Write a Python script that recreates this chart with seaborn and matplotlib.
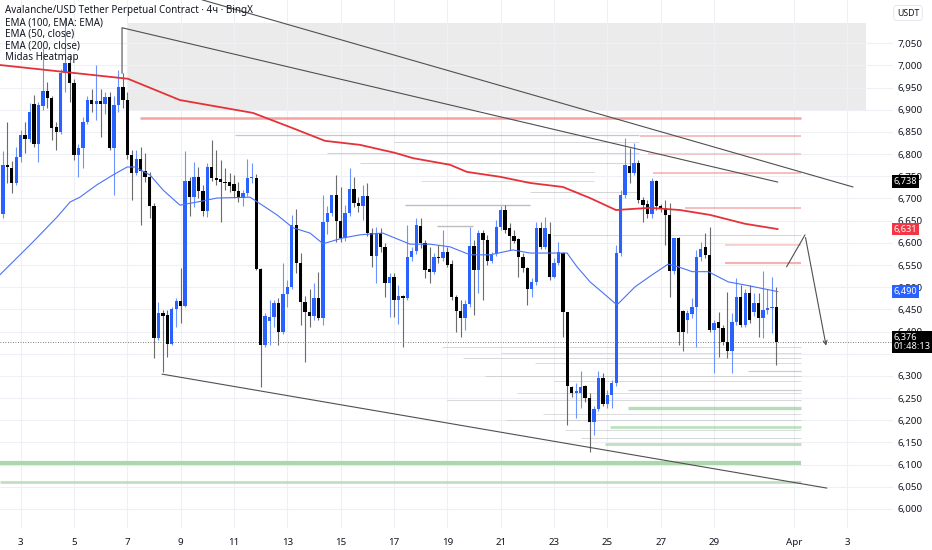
import numpy as np
import pandas as pd
import matplotlib
matplotlib.use("Agg")
import matplotlib.pyplot as plt
import matplotlib.dates as mdates
from matplotlib.patches import Rectangle
import seaborn as sns

# 4h candles, first one 2 Mar 08:00
opens = [6664, 6775, 6768, 6734, 6794, 6843, 6834, 6914, 6824, 6909, 6943, 6926, 6861, 6851, 6982, 7005, 6960, 6798, 6813, 6873, 6922, 6913, 6919, 6913, 6929, 6813, 6911, 6952, 6922,
         6798, 6758, 6788, 6762, 6749, 6682, 6385, 6441, 6437, 6373, 6450, 6469, 6458, 6740, 6703, 6748, 6718, 6672, 6772, 6747, 6743, 6738, 6737, 6732, 6718, 6700, 6713, 6746, 6746,
         6542, 6370, 6424, 6433, 6464, 6400, 6485, 6500, 6640, 6554, 6467, 6445, 6435, 6475, 6430, 6648, 6668, 6708, 6650, 6612, 6667, 6721, 6689, 6682, 6705, 6623, 6571, 6623, 6591,
         6509, 6522, 6471, 6480, 6475, 6567, 6582, 6638, 6600, 6540, 6535, 6567, 6565, 6580, 6552, 6479, 6447, 6430, 6462, 6593, 6539, 6623, 6606, 6560, 6575, 6636, 6674, 6633, 6615, 6608, 6567, 6543, 6495, 6512, 6633, 6591, 6620, 6524, 6554, 6576, 6443, 6276, 6261, 6262,
         6277, 6251, 6195, 6225, 6296, 6237, 6257, 6283, 6576, 6708, 6773, 6758, 6781, 6697, 6688, 6664, 6739, 6683, 6679, 6663, 6537, 6610, 6447, 6425, 6440, 6456, 6569, 6591, 6573, 6404, 6422, 6409, 6377, 6355, 6422, 6479, 6415, 6488, 6445, 6465, 6430, 6449, 6452, 6456]
highs = [6806, 6873, 6785, 6817, 6854, 6873, 6915, 6933, 6918, 7039, 6963, 6931, 6873, 6993, 7109, 7021, 6969, 6824, 6884, 6930, 6948, 7001, 6946, 6941, 6941, 6930, 6990, 6982, 6941,
         6809, 6809, 6817, 6803, 6760, 6689, 6467, 6449, 6449, 6456, 6475, 6543, 6806, 6749, 6783, 6772, 6730, 6779, 6832, 6809, 6787, 6768, 6758, 6753, 6738, 6719, 6788, 6779, 6755,
         6543, 6441, 6471, 6471, 6475, 6554, 6516, 6663, 6676, 6576, 6480, 6497, 6509, 6535, 6708, 6682, 6708, 6753, 6727, 6685, 6768, 6748, 6704, 6730, 6734, 6633, 6636, 6633, 6599,
         6531, 6531, 6505, 6482, 6640, 6591, 6655, 6655, 6606, 6591, 6576, 6595, 6629, 6591, 6561, 6482, 6471, 6471, 6636, 6606, 6629, 6629, 6618, 6580, 6651, 6682, 6685, 6644, 6629, 6612, 6576, 6546, 6520, 6648, 6648, 6659, 6648, 6565, 6603, 6580, 6443, 6277, 6283, 6310,
         6280, 6261, 6231, 6310, 6306, 6268, 6291, 6595, 6719, 6836, 6813, 6826, 6787, 6704, 6697, 6747, 6742, 6688, 6697, 6689, 6612, 6613, 6449, 6449, 6475, 6584, 6603, 6623, 6636, 6426, 6445, 6415, 6490, 6441, 6520, 6505, 6497, 6505, 6486, 6486, 6537, 6497, 6524, 6500]
lows = [6655, 6734, 6712, 6730, 6783, 6802, 6828, 6815, 6783, 6900, 6905, 6833, 6809, 6845, 6941, 6918, 6787, 6749, 6768, 6868, 6895, 6877, 6839, 6890, 6809, 6708, 6895, 6903, 6790,
        6697, 6752, 6640, 6737, 6655, 6340, 6380, 6309, 6343, 6370, 6411, 6420, 6455, 6660, 6680, 6700, 6660, 6659, 6740, 6730, 6648, 6720, 6715, 6700, 6693, 6682, 6705, 6735, 6538,
        6276, 6365, 6370, 6411, 6370, 6395, 6456, 6495, 6531, 6415, 6332, 6411, 6426, 6425, 6415, 6621, 6660, 6603, 6603, 6605, 6660, 6680, 6670, 6651, 6615, 6546, 6509, 6580, 6479,
        6433, 6433, 6418, 6366, 6470, 6560, 6575, 6588, 6520, 6509, 6530, 6555, 6560, 6545, 6471, 6400, 6387, 6403, 6455, 6437, 6486, 6471, 6550, 6555, 6570, 6630, 6622, 6584, 6600, 6524, 6535, 6460, 6479, 6505, 6585, 6585, 6516, 6520, 6550, 6388, 6189, 6253, 6204, 6227,
        6240, 6129, 6167, 6220, 6231, 6227, 6227, 6277, 6570, 6700, 6734, 6752, 6690, 6646, 6655, 6655, 6675, 6670, 6595, 6477, 6530, 6370, 6355, 6396, 6430, 6366, 6560, 6565, 6400, 6306, 6343, 6370, 6340, 6306, 6415, 6410, 6410, 6420, 6435, 6388, 6385, 6440, 6396, 6325]
closes = [6776, 6770, 6736, 6794, 6843, 6834, 6894, 6822, 6911, 6943, 6926, 6860, 6851, 6982, 7005, 6960, 6798, 6813, 6873, 6922, 6913, 6919, 6913, 6928, 6813, 6911, 6952, 6922, 6798,
          6758, 6788, 6762, 6749, 6682, 6385, 6441, 6434, 6373, 6450, 6469, 6458, 6740, 6703, 6749, 6718, 6672, 6772, 6747, 6742, 6738, 6735, 6729, 6718, 6700, 6713, 6746, 6748, 6542,
          6370, 6434, 6433, 6464, 6400, 6485, 6500, 6640, 6554, 6467, 6445, 6435, 6475, 6430, 6648, 6668, 6708, 6650, 6612, 6667, 6721, 6689, 6682, 6705, 6623, 6571, 6623, 6591, 6509,
          6522, 6471, 6480, 6475, 6567, 6582, 6640, 6600, 6539, 6535, 6567, 6565, 6580, 6550, 6479, 6447, 6430, 6462, 6593, 6539, 6623, 6606, 6560, 6575, 6636, 6674, 6630, 6615, 6605, 6567, 6543, 6495, 6512, 6633, 6591, 6633, 6524, 6554, 6580, 6445, 6277, 6261, 6265, 6276,
          6251, 6195, 6225, 6296, 6237, 6257, 6283, 6576, 6708, 6775, 6758, 6781, 6697, 6685, 6664, 6739, 6683, 6678, 6663, 6537, 6610, 6400, 6400, 6441, 6456, 6569, 6585, 6573, 6404, 6420, 6407, 6377, 6355, 6422, 6479, 6415, 6488, 6426, 6465, 6430, 6449, 6452, 6456, 6376]

# EMA lines, read at points (day of March, price)
ema200_day = [2.22, 7.02, 8.97, 11.71, 13.10, 14.41, 15.72, 17.03, 17.71, 19.10, 19.73, 20.97, 22.10, 23.33, 24.35, 25.32, 26.60, 27.72, 28.85, 30.16, 31.39]
ema200_val = [7001, 6970, 6922, 6893, 6861, 6830, 6821, 6803, 6791, 6776, 6760, 6749, 6735, 6726, 6701, 6674, 6679, 6674, 6663, 6643, 6631]
ema50_day = [2.22, 3.46, 4.36, 4.85, 5.22, 5.86, 6.46, 6.99, 7.29, 7.85, 8.34, 8.97, 9.61, 10.36, 11.60, 12.16, 12.61, 13.21, 13.85, 14.34, 15.08, 15.72,
             16.58, 17.03, 17.60, 18.35, 19.10, 19.85, 20.60, 21.46, 22.10, 23.49, 23.86, 24.35, 24.80, 25.36, 26.04, 26.68, 27.28, 27.65, 28.18, 28.78, 29.53, 30.16, 31.39]
ema50_val = [6528, 6602, 6658, 6692, 6703, 6731, 6753, 6771, 6771, 6753, 6719, 6685, 6692, 6701, 6703, 6681, 6663, 6634, 6622, 6598, 6611, 6618,
             6622, 6611, 6597, 6597, 6591, 6573, 6573, 6584, 6577, 6577, 6546, 6512, 6489, 6460, 6501, 6528, 6552, 6546, 6535, 6535, 6512, 6505, 6490]

# Midas heatmap levels
heat_end = 32.26
red_levels = [6881, 6841, 6800, 6758, 6678, 6595, 6555]
red_start = [7.48, 26.23, 26.52, 26.71, 27.91, 29.41, 29.41]
red_strength = [1.0, 0.5, 0.3, 0.5, 0.5, 0.3, 0.7]
green_levels = [6227, 6185, 6146, 6103, 6061]
green_start = [25.77, 25.10, 24.91, 2.22, 2.22]
green_strength = [0.7, 0.5, 0.5, 1.0, 0.5]
gray_levels = [6843, 6828, 6802, 6780, 6760, 6740, 6715, 6685, 6638, 6618, 6365, 6352, 6340, 6330, 6310, 6300, 6288, 6268, 6262, 6245, 6215, 6200, 6178, 6160]
gray_start = [11.04, 17.0, 14.49, 15.73, 20.5, 18.0, 22.1, 17.41, 18.6, 22.96, 18.8, 21.0, 19.6, 22.3, 30.27, 20.4, 23.0, 25.77, 21.6, 19.0, 22.6, 21.2, 23.4, 24.0]
gray_end = [26.2, 26.2, 26.2, 26.2, 24.5, 24.5, 26.2, 22.1, 19.97, 32.26, 32.26, 32.26, 32.26, 32.26, 32.26, 32.26, 32.26, 32.26, 32.26, 32.26, 32.26, 32.26, 32.26, 32.26]
gray_strength = [0.6, 0.25, 0.35, 0.3, 0.2, 0.2, 0.3, 0.8, 0.8, 0.3, 0.25, 0.2, 0.25, 0.2, 0.5, 0.2, 0.2, 0.5, 0.2, 0.25, 0.2, 0.2, 0.2, 0.25]

# drawings
zone_day = [7.02, 34.69]
zone_price = [6900, 7096]
upper_a_day = [9.80, 34.21]
upper_a_price = [7148, 6726]
upper_b_day = [6.80, 6.80, 31.39]
upper_b_price = [6982, 7085, 6737]
lower_day = [8.30, 33.23]
lower_price = [6304, 6047]
path_day = [31.72, 32.41, 33.22]
path_price = [6546, 6618, 6362]

last_price = 6376
tick_days = [3, 5, 7, 9, 11, 13, 15, 17, 19, 21, 23, 25, 27, 29, 32, 34]
tick_labels = ["3", "5", "7", "9", "11", "13", "15", "17", "19", "21", "23", "25", "27", "29", "Apr", "3"]

sns.set_style("white")
plt.rcParams['font.family'] = ['Noto Sans', 'DejaVu Sans']

base = mdates.date2num(pd.Timestamp("2025-02-28"))
def dnum(d):
    return base + np.asarray(d, dtype=float)

times = mdates.date2num(pd.date_range("2025-03-02 08:00", periods=len(opens), freq="4h"))
df = pd.DataFrame({"t": times, "o": opens, "h": highs, "l": lows, "c": closes})
df["up"] = df["c"] >= df["o"]

fig = plt.figure(figsize=(9.32, 5.5), dpi=100)
ax = fig.add_axes([0, 22 / 550, 893 / 932, 528 / 550])

ax.set_xlim(dnum(2.224), dnum(35.71))
ax.set_ylim(5957, 7147.6)

yt = np.arange(6000, 7051, 50)
ax.set_yticks(yt)
# 6,350 sits fully under the last-price tag
ax.set_yticklabels(["" if v == 6350 else f"{v:,}" for v in yt])
ax.set_xticks(dnum(tick_days))
ax.set_xticklabels(tick_labels)
ax.yaxis.tick_right()
ax.tick_params(axis="y", length=0, pad=3, labelsize=7, labelcolor="#131722")
ax.tick_params(axis="x", length=0, pad=7, labelsize=7, labelcolor="#131722")
for lab in ax.get_xticklabels():
    if lab.get_text() == "Apr":
        lab.set_fontweight("bold")
for s in ax.spines.values():
    s.set_visible(False)
ax.grid(True, color="#eef0f5", lw=0.8, zorder=0)
ax.set_axisbelow(True)

# zone
ax.add_patch(Rectangle((dnum(zone_day[0]), zone_price[0]), zone_day[1] - zone_day[0],
                       zone_price[1] - zone_price[0], facecolor="#ebebeb", edgecolor="none", zorder=0.5))

# heatmap lines
for lv, st, en, k in zip(gray_levels, gray_start, gray_end, gray_strength):
    ax.hlines(lv, dnum(st), dnum(en), colors="#9a9a9a", lw=0.6 + 0.5 * k, alpha=0.25 + 0.5 * k, zorder=1)
for lv, st, k in zip(red_levels, red_start, red_strength):
    ax.hlines(lv, dnum(st), dnum(heat_end), colors="#f28b8b", lw=0.9 + 0.9 * k, alpha=0.35 + 0.45 * k, zorder=1.2)
for lv, st, k in zip(green_levels, green_start, green_strength):
    ax.hlines(lv, dnum(st), dnum(heat_end), colors="#9dd19d", lw=1.0 + 2.0 * k, alpha=0.45 + 0.4 * k, zorder=1.2)

# candles
w = 0.125
for up, sub in df.groupby("up"):
    body_c = "#2962ff" if up else "#000000"
    wick_c = "#6d93ff" if up else "#6b6b6b"
    lo = np.minimum(sub["l"], np.minimum(sub["o"], sub["c"]))
    hi = np.maximum(sub["h"], np.maximum(sub["o"], sub["c"]))
    ax.vlines(sub["t"], lo, hi, colors=wick_c, lw=0.8, zorder=3)
    bottom = np.minimum(sub["o"], sub["c"])
    height = np.maximum(np.abs(sub["c"] - sub["o"]), 3)
    ax.bar(sub["t"], height, bottom=bottom, width=w, color=body_c, linewidth=0, zorder=3.5)

# EMAs
sns.lineplot(x=dnum(ema200_day), y=ema200_val, ax=ax, color="#e53238", lw=1.3, estimator=None, sort=False, zorder=4)
sns.lineplot(x=dnum(ema50_day), y=ema50_val, ax=ax, color="#4a72f5", lw=0.8, estimator=None, sort=False, zorder=4)

# drawings
line_c = "#505050"
ax.plot(dnum(upper_a_day), upper_a_price, color=line_c, lw=0.8, zorder=5)
ax.plot(dnum(upper_b_day), upper_b_price, color=line_c, lw=0.8, zorder=5)
ax.plot(dnum(lower_day), lower_price, color=line_c, lw=0.8, zorder=5)
ax.plot(dnum(path_day[:2]), path_price[:2], color=line_c, lw=0.8, zorder=5)
ax.annotate("", xy=(dnum(path_day[2]), path_price[2]), xytext=(dnum(path_day[1]), path_price[1]),
            arrowprops=dict(arrowstyle="->", color=line_c, lw=0.8, mutation_scale=7), zorder=5)

# last price line
ax.axhline(last_price, color="#555555", lw=0.6, ls=(0, (1, 2)), zorder=2)

# price scale labels
ytr = ax.get_yaxis_transform()
def price_tag(val, text, fc, tc="white"):
    ax.text(1.001, val, text, transform=ytr, fontsize=6.6, color=tc, va="center", ha="left",
            bbox=dict(boxstyle="square,pad=0.2", fc=fc, ec="none"), clip_on=False, zorder=10,
            linespacing=1.05)

price_tag(6738, "6,738", "#000000")
price_tag(ema200_val[-1], f"{ema200_val[-1]:,}", "#f23645")
price_tag(ema50_val[-1], f"{ema50_val[-1]:,}", "#2962ff")
price_tag(last_price, f"{last_price:,}\n01:48:13", "#000000")

fig.text(908 / 932, 1 - 13 / 550, "USDT", fontsize=6.3, color="#131722", ha="center", va="center",
         bbox=dict(boxstyle="round,pad=0.35", fc="white", ec="#e0e3eb", lw=0.6))

# legend text top-left
fig.text(5 / 932, 1 - 11 / 550, "Avalanche/USD Tether Perpetual Contract · 4ч · BingX", fontsize=7.1,
         color="#131722", va="center", ha="left", fontweight="medium")
for i, s in enumerate(["EMA (100, EMA: EMA)", "EMA (50, close)", "EMA (200, close)", "Midas Heatmap"]):
    fig.text(5 / 932, 1 - (22.7 + 11.5 * i) / 550, s, fontsize=7.1, color="#131722", va="center", ha="left")

fig.savefig("out.png", dpi=100)
